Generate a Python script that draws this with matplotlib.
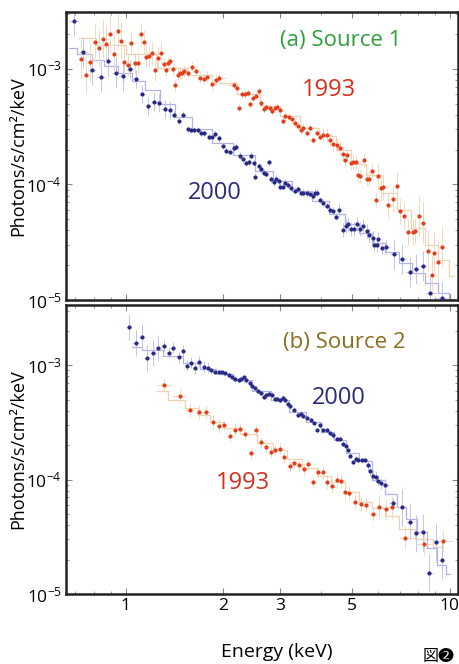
import matplotlib
matplotlib.use("Agg")
import matplotlib.pyplot as plt
import numpy as np

plt.rcParams["font.family"] = ["Open Sans", "DejaVu Sans"]
plt.rcParams["mathtext.fontset"] = "custom"
plt.rcParams["mathtext.rm"] = "Open Sans"
plt.rcParams["mathtext.it"] = "Open Sans:italic"
plt.rcParams["mathtext.bf"] = "Open Sans:bold"

# ---- (a) Source 1, 1993 (red) : energy keV, flux photons/s/cm2/keV
src1_93_e = [0.731, 0.753, 0.776, 0.803, 0.828, 0.850, 0.872, 0.897, 0.921, 0.945,
             0.967, 0.991, 1.016, 1.041, 1.066, 1.091, 1.112, 1.138, 1.160, 1.183,
             1.208, 1.234, 1.257, 1.284, 1.309, 1.330, 1.354, 1.375, 1.402, 1.425,
             1.449, 1.469, 1.490, 1.519, 1.560, 1.604, 1.654, 1.698, 1.742, 1.788,
             1.849, 1.896, 1.946, 2.154, 2.206, 2.231, 2.286, 2.339, 2.385, 2.424,
             2.471, 2.529, 2.570, 2.621, 2.664, 2.715, 2.780, 2.828, 2.880, 2.930,
             2.985, 3.057, 3.108, 3.181, 3.258, 3.334, 3.414, 3.480, 3.537, 3.623,
             3.709, 3.797, 3.889, 3.981, 4.076, 4.174, 4.273, 4.375, 4.481, 4.587,
             4.677, 4.753, 4.830, 4.950, 5.041, 5.138, 5.224, 5.284, 5.447, 5.541,
             5.644, 5.741, 5.920, 6.013, 6.121, 6.237, 6.457, 6.664, 6.855, 7.015,
             7.220, 7.443, 7.675, 7.798, 8.043, 8.241, 8.577, 8.783, 8.947, 9.164,
             9.463]
src1_93_f = [12.13, 8.87, 11.43, 17.03, 14.99, 18.07, 16.36, 19.82, 13.56, 21.04,
             17.47, 11.43, 10.76, 16.69, 11.20, 11.34, 19.97, 17.22, 12.78, 12.96,
             13.57, 9.80, 12.38, 13.67, 10.98, 9.80, 11.20, 11.80, 9.94, 7.27,
             8.87, 9.18, 9.29, 9.55, 9.29, 10.47, 9.48, 8.41, 8.24, 8.53,
             7.37, 8.08, 8.41, 7.27, 6.89, 4.62, 6.04, 6.04, 6.23, 4.95,
             5.57, 5.84, 6.45, 5.11, 4.50, 4.66, 4.57, 4.33, 4.62, 4.72,
             4.42, 3.57, 3.92, 3.86, 3.67, 3.39, 3.21, 2.96, 3.07, 2.81,
             3.07, 2.43, 2.81, 2.59, 2.70, 2.68, 2.43, 2.24, 2.18, 2.08,
             1.84, 1.62, 1.79, 1.53, 1.55, 1.56, 1.21, 1.19, 1.63, 1.11,
             1.11, 1.31, 0.734, 1.19, 0.927, 0.946, 0.665, 0.749, 0.977, 0.590,
             0.534, 0.390, 0.386, 0.396, 0.534, 0.467, 0.267, 0.165, 0.257, 0.215,
             0.289]
src1_93_model_e = [0.72, 0.90, 1.10, 1.40, 1.70, 2.00, 2.40, 2.80, 3.20, 3.70,
                   4.20, 4.70, 5.20, 5.80, 6.50, 7.20, 8.00, 8.80, 9.60, 10.3]
src1_93_model_f = [18.5, 16.0, 13.5, 10.2, 8.8, 7.6, 6.0, 4.8, 3.9, 3.1,
                   2.6, 2.0, 1.5, 1.2, 0.85, 0.60, 0.42, 0.30, 0.22, 0.16]

# ---- (a) Source 1, 2000 (blue)
src1_00_e = [0.693, 0.740, 0.787, 0.838, 0.885, 0.932, 0.981, 1.029, 1.076, 1.126,
             1.171, 1.222, 1.270, 1.321, 1.366, 1.412, 1.466, 1.508, 1.557, 1.592,
             1.631, 1.669, 1.713, 1.750, 1.804, 1.849, 1.892, 1.936, 1.993, 2.046,
             2.094, 2.154, 2.196, 2.247, 2.301, 2.357, 2.395, 2.437, 2.494, 2.512,
             2.571, 2.621, 2.664, 2.715, 2.761, 2.808, 2.859, 2.909, 2.963, 2.999,
             3.057, 3.108, 3.168, 3.243, 3.319, 3.400, 3.480, 3.537, 3.623, 3.709,
             3.781, 3.843, 3.906, 3.981, 4.076, 4.174, 4.273, 4.355, 4.457, 4.562,
             4.677, 4.786, 4.864, 4.950, 5.066, 5.163, 5.284, 5.409, 5.541, 5.644,
             5.781, 5.848, 5.950, 6.018, 6.166, 6.356, 6.741, 7.100, 7.534, 7.861,
             8.241, 8.679, 9.430]
src1_00_f = [26.18, 14.03, 9.80, 8.58, 11.57, 9.29, 8.70, 10.0, 8.19, 6.07,
             4.79, 5.21, 5.05, 4.48, 4.42, 4.00, 3.55, 4.00, 2.99, 2.96,
             2.96, 2.96, 2.81, 2.77, 2.59, 2.59, 2.74, 2.51, 2.17, 1.96,
             1.91, 2.06, 2.12, 1.77, 1.65, 1.53, 1.55, 1.77, 1.53, 1.17,
             1.43, 1.35, 1.26, 1.23, 1.55, 1.11, 1.045, 1.12, 1.06, 0.957,
             0.957, 1.036, 0.990, 0.938, 0.884, 0.909, 0.849, 0.849, 0.839, 0.828,
             0.795, 0.849, 0.849, 0.734, 0.696, 0.652, 0.601, 0.593, 0.526, 0.601,
             0.404, 0.437, 0.455, 0.410, 0.410, 0.455, 0.414, 0.437, 0.396, 0.366,
             0.342, 0.299, 0.299, 0.335, 0.280, 0.289, 0.249, 0.225, 0.176, 0.184,
             0.197, 0.116, 0.105]
src1_00_model_e = [0.67, 0.75, 0.82, 0.90, 1.00, 1.10, 1.20, 1.35, 1.50, 1.70,
                   2.00, 2.30, 2.70, 3.00, 3.50, 4.00, 4.50, 5.00, 5.50, 6.00,
                   6.60, 7.30, 8.00, 8.80, 9.60, 10.3]
src1_00_model_f = [15.2, 13.5, 12.0, 10.5, 9.2, 7.8, 6.5, 5.0, 3.8, 3.0,
                   2.3, 1.8, 1.3, 1.07, 0.88, 0.72, 0.56, 0.45, 0.38, 0.31,
                   0.26, 0.21, 0.17, 0.14, 0.115, 0.102]

# ---- (b) Source 2, 2000 (blue)
src2_00_e = [1.024, 1.073, 1.120, 1.166, 1.213, 1.261, 1.312, 1.359, 1.402, 1.459,
             1.501, 1.548, 1.596, 1.642, 1.689, 1.742, 1.792, 1.839, 1.892, 1.936,
             1.984, 2.031, 2.079, 2.130, 2.180, 2.231, 2.275, 2.312, 2.357, 2.413,
             2.454, 2.512, 2.553, 2.615, 2.664, 2.715, 2.761, 2.828, 2.880, 2.930,
             2.985, 3.057, 3.108, 3.159, 3.220, 3.296, 3.400, 3.472, 3.537, 3.639,
             3.728, 3.815, 3.890, 3.981, 4.076, 4.174, 4.273, 4.375, 4.481, 4.587,
             4.696, 4.786, 4.864, 4.924, 5.041, 5.129, 5.224, 5.349, 5.476, 5.607,
             5.675, 5.781, 5.916, 5.991, 6.121, 6.310, 6.691, 7.100, 7.534, 7.861,
             8.241, 8.637, 9.057, 9.430]
src2_00_f = [21.68, 15.49, 17.71, 11.45, 12.66, 14.01, 14.68, 12.82, 14.18, 11.68,
             13.27, 9.86, 10.47, 9.36, 10.69, 9.66, 9.47, 9.04, 8.73, 8.73,
             8.63, 8.46, 8.17, 7.90, 7.64, 7.39, 7.64, 7.80, 7.39, 6.91,
             6.58, 6.32, 5.95, 5.71, 5.27, 5.45, 5.65, 5.53, 5.03, 5.10,
             4.93, 5.17, 4.93, 4.61, 4.37, 4.09, 3.64, 3.77, 3.59, 3.45,
             3.34, 3.12, 2.69, 2.98, 2.69, 2.69, 2.55, 2.43, 2.28, 2.28,
             2.06, 1.95, 1.80, 1.62, 1.42, 1.52, 1.49, 1.47, 1.47, 1.33,
             1.20, 1.08, 1.06, 0.98, 0.929, 0.899, 0.620, 0.571, 0.428, 0.341,
             0.345, 0.154, 0.282, 0.198]
src2_00_model_e = [1.05, 1.20, 1.40, 1.60, 1.80, 2.00, 2.30, 2.60, 3.00, 3.40,
                   3.80, 4.20, 4.60, 5.00, 5.50, 6.00, 6.60, 7.10, 7.60, 8.20,
                   8.80, 9.40, 10.0]
src2_00_model_f = [14.5, 13.5, 12.0, 10.5, 9.3, 8.4, 7.4, 6.0, 5.0, 3.9,
                   3.2, 2.6, 2.2, 1.7, 1.45, 1.0, 0.75, 0.58, 0.45, 0.35,
                   0.25, 0.18, 0.15]

# ---- (b) Source 2, 1993 (red)
src2_93_e = [1.318, 1.469, 1.585, 1.689, 1.775, 1.856, 1.936, 2.017, 2.094, 2.180,
             2.259, 2.339, 2.437, 2.529, 2.621, 2.715, 2.808, 2.894, 2.999, 3.084,
             3.203, 3.311, 3.430, 3.556, 3.664, 3.797, 3.917, 4.049, 4.174, 4.325,
             4.481, 4.610, 4.753, 4.900, 5.102, 5.322, 5.514, 5.781, 6.061, 6.339,
             6.644, 7.270, 8.336, 9.537]
src2_93_f = [6.77, 5.35, 4.09, 3.89, 3.89, 3.18, 2.92, 2.98, 2.38, 2.73,
             2.79, 2.48, 1.70, 2.69, 2.12, 1.92, 1.74, 1.80, 1.86, 1.57,
             1.31, 1.39, 1.33, 1.24, 1.36, 0.947, 1.16, 1.16, 0.947, 0.886,
             1.00, 0.98, 0.785, 0.759, 0.641, 0.612, 0.604, 0.500, 0.580, 0.553,
             0.571, 0.308, 0.276, 0.292]
src2_93_model_e = [1.25, 1.45, 1.60, 1.75, 1.90, 2.10, 2.40, 2.70, 3.00, 3.30,
                   3.70, 4.10, 4.50, 5.00, 5.50, 6.00, 6.60, 7.30, 8.30, 9.50]
src2_93_model_f = [6.0, 5.0, 4.2, 3.7, 3.2, 2.8, 2.5, 2.1, 1.8, 1.5,
                   1.25, 1.08, 0.95, 0.78, 0.64, 0.56, 0.48, 0.37, 0.30, 0.26]

# relative error per energy band
src1_93_err_edges, src1_93_err = [1.0, 1.3, 2.0, 4.0, 6.0, 8.0], [0.45, 0.25, 0.12, 0.08, 0.15, 0.3, 0.5]
src1_00_err_edges, src1_00_err = [1.0, 1.4, 4.5, 6.5], [0.35, 0.2, 0.07, 0.15, 0.35]
src2_00_err_edges, src2_00_err = [1.3, 1.8, 5.5, 7.0], [0.3, 0.12, 0.05, 0.12, 0.45]
src2_93_err_edges, src2_93_err = [2.0, 4.0, 6.0], [0.15, 0.12, 0.15, 0.25]

SCALE = 1e-4  # flux lists are in units of 1e-4

RED = "#e43f1c"
RED_ERR = "#f5d8bd"
RED_MODEL = "#eed2b4"
BLUE = "#2a2a86"
BLUE_ERR = "#c2c4ea"
BLUE_MODEL = "#b0b3e3"


def draw_series(ax, e, f, edges, rel, me, mf, col, ecol, mcol):
    e = np.array(e)
    f = np.array(f) * SCALE
    r = np.array(rel)[np.searchsorted(edges, e)]
    le = np.log10(e)
    mid = (le[1:] + le[:-1]) / 2
    lo = np.concatenate([[le[0] - (mid[0] - le[0])], mid])
    hi = np.concatenate([mid, [le[-1] + (le[-1] - mid[-1])]])
    xerr = [e - 10 ** lo, 10 ** hi - e]
    yerr = [f - f / (1 + r), f * r]
    ax.step(me, np.array(mf) * SCALE, where="mid", color=mcol, lw=0.9, zorder=1)
    ax.errorbar(e, f, xerr=xerr, yerr=yerr, fmt="none", ecolor=ecol, elinewidth=0.7, zorder=2)
    ax.plot(e, f, "o", color=col, ms=3, mew=0, zorder=3)


fig = plt.figure(figsize=(4.6, 6.64), dpi=100)
ax1 = fig.add_axes([0.1435, 0.5482, 0.8522, 0.4337])
ax2 = fig.add_axes([0.1435, 0.1054, 0.8522, 0.4352])

draw_series(ax1, src1_93_e, src1_93_f, src1_93_err_edges, src1_93_err,
            src1_93_model_e, src1_93_model_f, RED, RED_ERR, RED_MODEL)
draw_series(ax1, src1_00_e, src1_00_f, src1_00_err_edges, src1_00_err,
            src1_00_model_e, src1_00_model_f, BLUE, BLUE_ERR, BLUE_MODEL)
draw_series(ax2, src2_93_e, src2_93_f, src2_93_err_edges, src2_93_err,
            src2_93_model_e, src2_93_model_f, RED, RED_ERR, RED_MODEL)
draw_series(ax2, src2_00_e, src2_00_f, src2_00_err_edges, src2_00_err,
            src2_00_model_e, src2_00_model_f, BLUE, BLUE_ERR, BLUE_MODEL)

xticks = [1, 2, 3, 5, 10]
for ax, ytop in [(ax1, 3.1e-3), (ax2, 3.35e-3)]:
    ax.set_xscale("log")
    ax.set_yscale("log")
    ax.set_xlim(0.655, 10.6)
    ax.set_ylim(1e-5, ytop)
    ax.set_xticks(xticks)
    ax.set_xticklabels([str(t) for t in xticks])
    ax.set_yticks([1e-5, 1e-4, 1e-3])
    ax.set_yticklabels([r"$10^{-5}$", r"$10^{-4}$", r"$10^{-3}$"])
    ax.tick_params(which="both", direction="in", top=True, right=True, color="#888888")
    ax.tick_params(which="major", length=4, width=0.8, labelsize=12.5, pad=3)
    ax.tick_params(which="minor", length=2.5, width=0.6)
    ax.set_ylabel("Photons/s/cm²/keV", fontsize=13)
    ax.yaxis.set_label_coords(-0.1, 0.5)
    for s in ax.spines.values():
        s.set_linewidth(1.8)
        s.set_color("#222222")

ax1.tick_params(axis="x", which="both", labelbottom=False)

ax1.text(0.70, 0.90, "(a) Source 1", transform=ax1.transAxes, color="#2f9e3c",
         fontsize=16, ha="center", va="center")
ax1.text(0.67, 0.73, "1993", transform=ax1.transAxes, color="#d6301c",
         fontsize=17, ha="center", va="center")
ax1.text(0.38, 0.37, "2000", transform=ax1.transAxes, color="#2b2b7c",
         fontsize=17, ha="center", va="center")

ax2.text(0.71, 0.87, "(b) Source 2", transform=ax2.transAxes, color="#8c6d1e",
         fontsize=16, ha="center", va="center")
ax2.text(0.695, 0.68, "2000", transform=ax2.transAxes, color="#2b2b7c",
         fontsize=17, ha="center", va="center")
ax2.text(0.45, 0.385, "1993", transform=ax2.transAxes, color="#d6301c",
         fontsize=17, ha="center", va="center")

fig.text(277 / 460, 1 - 652 / 664, "Energy (keV)", fontsize=14, ha="center", va="center")
fig.text(455 / 460, 1 - 656 / 664, "図❷", fontsize=11.5, ha="right", va="center",
         family=["Noto Sans CJK JP", "DejaVu Sans"])

fig.savefig("out.png", dpi=100)
